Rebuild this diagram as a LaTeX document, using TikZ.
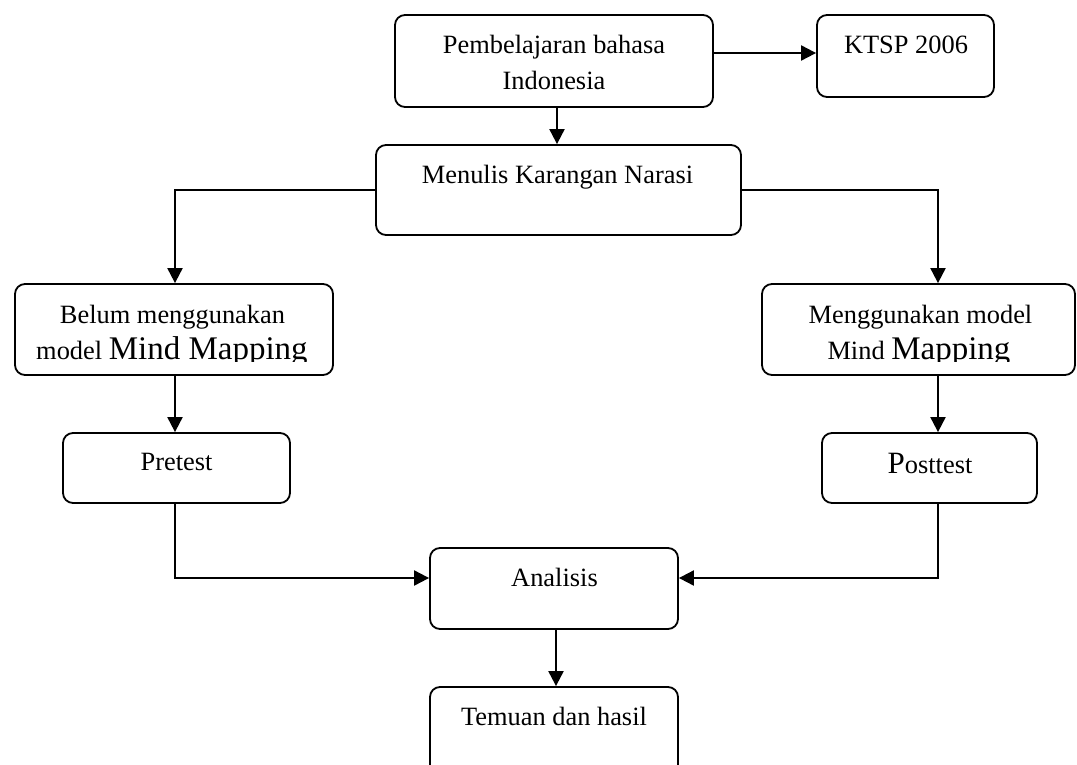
\documentclass[tikz,border=0pt]{standalone}
\usepackage{fontspec}
\setmainfont{Liberation Serif}
\usetikzlibrary{arrows.meta}
\newcommand{\bigtxt}{\fontsize{33}{36}\selectfont}
\begin{document}
\begin{tikzpicture}[x=1pt,y=-1pt,
  box/.style={draw, line width=1.8pt, rounded corners=10pt, inner sep=0pt},
  txt/.style={anchor=base, inner sep=0pt, font=\fontsize{26.4}{36}\selectfont},
  conn/.style={line width=2pt},
  arr/.style={conn, -{Triangle[length=15pt,width=15pt]}}]
\clip (0,0) rectangle (1077,764);
\fill[white] (0,0) rectangle (1077,764);
% boxes
\node[box, minimum width=318pt, minimum height=92pt] (b1) at (554,61) {};
\node[box, minimum width=177pt, minimum height=82pt] (b2) at (905.5,56) {};
\node[box, minimum width=365pt, minimum height=90pt] (b3) at (558.5,190) {};
\node[box, minimum width=318pt, minimum height=91pt] (b4) at (174,329.5) {};
\node[box, minimum width=313pt, minimum height=91pt] (b5) at (918.5,329.5) {};
\node[box, minimum width=227pt, minimum height=70pt] (b6) at (176.5,468) {};
\node[box, minimum width=215pt, minimum height=70pt] (b7) at (929.5,468) {};
\node[box, minimum width=248pt, minimum height=81pt] (b8) at (554,588.5) {};
\node[box, minimum width=248pt, minimum height=113pt] (b9) at (554,743.5) {};
% texts
\node[txt] (t1a) at (554,53) {Pembelajaran bahasa};
\node[txt] (t1b) at (554,89) {Indonesia};
\node[txt] (t2) at (906,53) {KTSP 2006};
\node[txt] (t3) at (557.5,183) {Menulis Karangan Narasi};
\node[txt] (t4a) at (172.5,323) {Belum menggunakan};
\node[txt] (t5a) at (920.5,323) {Menggunakan model};
\begin{scope}
\clip (0,0) rectangle (1077,361);
\node[txt] (t4b) at (172,359) {model {\bigtxt Mind Mapping}};
\node[txt] (t5b) at (919,359) {Mind {\bigtxt Mapping}};
\end{scope}
\node[txt] (t6) at (176.5,470) {Pretest};
\node[txt] (t7) at (930,473) {{\fontsize{31}{36}\selectfont P}osttest};
\node[txt] (t8) at (554.5,586) {Analisis};
\node[txt] (t9) at (554,725) {Temuan dan hasil};
% connector guides
\coordinate (cx) at (557,0);
\coordinate (lc) at (175,0);
\coordinate (rc) at (938,0);
\coordinate (mc) at (556,0);
\coordinate (ay) at (0,578);
\coordinate (ty) at (0,53);
% connectors
\draw[arr] (b1.east |- ty) -- (b2.west |- ty);
\draw[arr] (b1.south -| cx) -- (b3.north -| cx);
\draw[arr] (b3.west) -| (b4.north -| lc);
\draw[arr] (b3.east) -| (b5.north -| rc);
\draw[arr] (b4.south -| lc) -- (b6.north -| lc);
\draw[arr] (b5.south -| rc) -- (b7.north -| rc);
\draw[arr] (b6.south -| lc) |- (b8.west |- ay);
\draw[arr] (b7.south -| rc) |- (b8.east |- ay);
\draw[arr] (b8.south -| mc) -- (b9.north -| mc);
\end{tikzpicture}
\end{document}
